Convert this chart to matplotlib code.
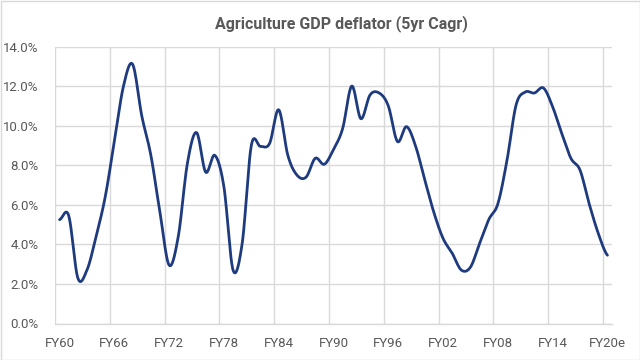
import numpy as np
import matplotlib
matplotlib.use("Agg")
import matplotlib.pyplot as plt
from matplotlib.patches import Rectangle
from matplotlib.ticker import FuncFormatter, MultipleLocator

# fiscal years FY60 .. FY20e
years = [f"FY{(60 + k) % 100:02d}" for k in range(61)]
years[-1] = "FY20e"

# agriculture GDP deflator, 5yr CAGR (%)
deflator = [5.25, 5.45, 2.3, 2.7, 4.4, 6.4, 9.2, 12.0, 13.1, 10.5,
            8.5, 5.6, 2.95, 4.4, 8.1, 9.65, 7.65, 8.5, 6.9, 2.7,
            4.05, 9.0, 8.95, 9.1, 10.8, 8.5, 7.5, 7.4, 8.35, 8.05,
            8.8, 9.85, 12.0, 10.35, 11.55, 11.65, 11.0, 9.2, 9.95, 8.95,
            7.25, 5.6, 4.3, 3.55, 2.7, 2.85, 4.05, 5.25, 6.05, 8.25,
            11.05, 11.7, 11.65, 11.9, 10.95, 9.6, 8.35, 7.75, 6.05, 4.55,
            3.45]

title = "Agriculture GDP deflator (5yr Cagr)"
line_color = "#1f3b7f"
text_color = "#595959"
grid_color = "#d9d9d9"


def smooth(y, steps=20):
    # excel-like smoothed line (catmull-rom through the points)
    y = np.asarray(y, dtype=float)
    n = len(y)
    yp = np.concatenate([[y[0]], y, [y[-1]]])
    xs, ys = [], []
    for i in range(n - 1):
        p0, p1, p2, p3 = yp[i], yp[i + 1], yp[i + 2], yp[i + 3]
        m1 = (p2 - p0) / 2
        m2 = (p3 - p1) / 2
        t = np.linspace(0, 1, steps, endpoint=(i == n - 2))
        h00 = 2 * t**3 - 3 * t**2 + 1
        h10 = t**3 - 2 * t**2 + t
        h01 = -2 * t**3 + 3 * t**2
        h11 = t**3 - t**2
        xs.append(i + t)
        ys.append(h00 * p1 + h10 * m1 + h01 * p2 + h11 * m2)
    return np.concatenate(xs), np.concatenate(ys)


plt.rcParams['font.family'] = ['Roboto', 'DejaVu Sans']

fig = plt.figure(figsize=(6.4, 3.6), dpi=100)
ax = fig.add_axes([55 / 640, 1 - 323.5 / 360, 557 / 640, 277 / 360])

sx, sy = smooth(deflator)
ax.plot(sx, sy, color=line_color, lw=2.0, solid_capstyle='round', zorder=3)

ax.set_xlim(-0.5, len(years) - 0.5)
ax.set_ylim(0, 14)
ax.yaxis.set_major_locator(MultipleLocator(2))
ax.yaxis.set_major_formatter(FuncFormatter(lambda v, p: f"{v:.1f}%"))

idx = list(range(0, len(years), 6))
ax.set_xticks(idx)
ax.set_xticklabels([years[i] for i in idx])
ax.set_xticks([i - 0.5 for i in idx], minor=True)

ax.grid(False)
ax.grid(axis='y', which='major', color=grid_color, lw=1)
ax.grid(axis='x', which='minor', color=grid_color, lw=1)
ax.set_axisbelow(True)

for s in ['top', 'right', 'left']:
    ax.spines[s].set_visible(False)
ax.spines['bottom'].set_color(grid_color)
ax.spines['bottom'].set_linewidth(1)

ax.tick_params(axis='both', which='major', length=0, labelsize=9.5,
               labelcolor=text_color)
ax.tick_params(axis='y', pad=12)
ax.tick_params(axis='x', pad=10)
ax.tick_params(axis='x', which='minor', length=0)

fig.text(341 / 640, 1 - 24 / 360, title, ha='center', va='center',
         fontsize=11.5, fontweight='bold', color=text_color)

fig.patches.append(Rectangle((0.5 / 640, 0.5 / 360), 639 / 640, 359 / 360,
                             transform=fig.transFigure, fill=False,
                             edgecolor=grid_color, lw=1))

fig.savefig("out.png", dpi=100)
